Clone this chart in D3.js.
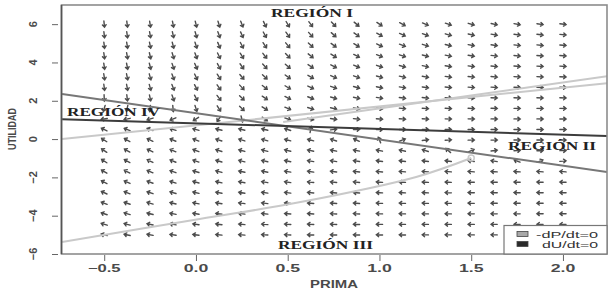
<!DOCTYPE html>
<html>
<head>
<meta charset="utf-8">
<script src="https://cdn.jsdelivr.net/npm/d3@7/dist/d3.min.js"></script>
<style>
  html, body { margin: 0; padding: 0; background: #fff; }
  svg { display: block; }
</style>
</head>
<body>
<svg id="chart" width="616" height="292"></svg>
<script>
// ---------- data ----------
const X_TICKS = [-0.5, 0, 0.5, 1, 1.5, 2];
const X_TICK_LABELS = ["\u22120.5", "0.0", "0.5", "1.0", "1.5", "2.0"];
const Y_TICKS = [-6, -4, -2, 0, 2, 4, 6];
const Y_TICK_LABELS = ["\u22126", "\u22124", "\u22122", "0", "2", "4", "6"];
const X_TITLE = "PRIMA";
const Y_TITLE = "UTILIDAD";

// grid of the direction field
const P_GRID = [-0.5, -0.375, -0.25, -0.125, 0, 0.125, 0.25, 0.375, 0.5, 0.625, 0.75,
                0.875, 1, 1.125, 1.25, 1.375, 1.5, 1.625, 1.75, 1.875, 2];
const U_GRID = [-5, -4.45, -3.9, -3.35, -2.8, -2.25, -1.7, -1.15, -0.6, -0.05, 0.5,
                1.05, 1.6, 2.15, 2.7, 3.25, 3.8, 4.35, 4.9, 5.45, 6];

// nullclines (end points)
const DU_NULL_P = [-0.73, 2.24];
const DU_NULL_U = [1.04, 0.16];
const DP_NULL_P = [-0.73, 2.24];
const DP_NULL_U = [2.35, -1.72];

// light trajectories
const TRAJ_A_P = [-0.73, 2.24];
const TRAJ_A_U = [0.0, 2.92];
const TRAJ_B_P = [0.475, 2.24];
const TRAJ_B_U = [0.89, 3.28];
const TRAJ_C_P = [-0.73, 0.02, 0.57, 1.2, 1.5];
const TRAJ_C_U = [-5.37, -4.17, -3.29, -1.98, -0.99];

const REGION_LABELS = ["REGI\u00D3N I", "REGI\u00D3N II", "REGI\u00D3N III", "REGI\u00D3N IV"];
const LEGEND_LABELS = ["-dP/dt=0", "dU/dt=0"];

// ---------- drawing ----------
const svg = d3.select("#chart");
const x = d3.scaleLinear().domain([-0.73, 2.24]).range([62, 607]);
const y = d3.scaleLinear().domain([-6, 7]).range([254, 5]);

const lineAt = (Ps, Us, p) => Us[0] + (Us[1] - Us[0]) * (p - Ps[0]) / (Ps[1] - Ps[0]);

svg.append("defs").append("clipPath").attr("id", "clip")
  .append("rect").attr("x", 62).attr("y", 5).attr("width", 545).attr("height", 249);

const plot = svg.append("g").attr("clip-path", "url(#clip)");

// direction field (sign pattern set by the two nullclines), R-style open arrow heads
const arrows = plot.append("g").attr("stroke", "#4c4c4c").attr("stroke-width", 1.4)
  .attr("fill", "none").attr("stroke-linecap", "round");
const ALEN = 6.2, HLEN = 3, HANG = 38 * Math.PI / 180;
P_GRID.forEach(p => {
  U_GRID.forEach(u => {
    const s2 = u - lineAt(DP_NULL_P, DP_NULL_U, p);
    const s1 = u - lineAt(DU_NULL_P, DU_NULL_U, p);
    const g = Math.exp(1.6 * p - 0.3 * u + 0.5);
    const dP = s2 * g;
    const dU = -s1;
    const vx = dP, vy = -dU;
    const a = Math.atan2(vy, vx);
    const cx = x(p), cy = y(u);
    const x0 = cx - Math.cos(a) * ALEN / 2, y0 = cy - Math.sin(a) * ALEN / 2;
    const x1 = cx + Math.cos(a) * ALEN / 2, y1 = cy + Math.sin(a) * ALEN / 2;
    const h1x = x1 - HLEN * Math.cos(a - HANG), h1y = y1 - HLEN * Math.sin(a - HANG);
    const h2x = x1 - HLEN * Math.cos(a + HANG), h2y = y1 - HLEN * Math.sin(a + HANG);
    arrows.append("path")
      .attr("d", `M${x0},${y0}L${x1},${y1}M${h1x},${h1y}L${x1},${y1}L${h2x},${h2y}`);
  });
});

// lines
const light = "#c9c9c9";
const lg = d3.line().x(d => x(d[0])).y(d => y(d[1]));
plot.append("path").attr("d", lg(d3.zip(TRAJ_A_P, TRAJ_A_U)))
  .attr("stroke", light).attr("stroke-width", 2).attr("fill", "none");
plot.append("path").attr("d", lg(d3.zip(TRAJ_B_P, TRAJ_B_U)))
  .attr("stroke", light).attr("stroke-width", 2).attr("fill", "none");
plot.append("path").attr("d", d3.line().x(d => x(d[0])).y(d => y(d[1])).curve(d3.curveCatmullRom)(d3.zip(TRAJ_C_P, TRAJ_C_U)))
  .attr("stroke", light).attr("stroke-width", 2).attr("fill", "none");
plot.append("circle").attr("cx", x(TRAJ_C_P[4])).attr("cy", y(TRAJ_C_U[4])).attr("r", 3)
  .attr("fill", "none").attr("stroke", light).attr("stroke-width", 1.5);

plot.append("path").attr("d", lg(d3.zip(DP_NULL_P, DP_NULL_U)))
  .attr("stroke", "#777").attr("stroke-width", 2).attr("fill", "none");
plot.append("path").attr("d", lg(d3.zip(DU_NULL_P, DU_NULL_U)))
  .attr("stroke", "#3c3c3c").attr("stroke-width", 2).attr("fill", "none");

// box
svg.append("rect").attr("x", 61.5).attr("y", 5).attr("width", 545.5).attr("height", 249)
  .attr("fill", "none").attr("stroke", "#8c8c8c").attr("stroke-width", 1.6);
svg.append("line").attr("x1", 61.5).attr("x2", 61.5).attr("y1", 5).attr("y2", 254)
  .attr("stroke", "#555").attr("stroke-width", 1.6);

// axes
const yAxis = svg.append("g").attr("transform", "translate(58,0)")
  .call(d3.axisLeft(y).tickValues(Y_TICKS).tickSize(6).tickFormat(""));
yAxis.select(".domain").remove();
yAxis.selectAll(".tick line").attr("stroke", "#666").attr("stroke-width", 1);

const xAxis = svg.append("g").attr("transform", "translate(0,255)")
  .call(d3.axisBottom(x).tickValues(X_TICKS).tickSize(6).tickFormat(""));
xAxis.select(".domain").remove();
xAxis.selectAll(".tick line").attr("stroke", "#666").attr("stroke-width", 1);

const sans = "'Liberation Sans', Arial, sans-serif";
svg.append("g").selectAll("text").data(X_TICKS).join("text")
  .attr("x", d => x(d)).attr("y", 272)
  .attr("text-anchor", "middle").attr("font-family", sans).attr("font-size", 10.5)
  .attr("font-weight", "bold").attr("fill", "#4a4a4a")
  .attr("textLength", (d, i) => X_TICK_LABELS[i].length * 8.2)
  .attr("lengthAdjust", "spacingAndGlyphs")
  .text((d, i) => X_TICK_LABELS[i]);

svg.append("g").selectAll("text").data(Y_TICKS).join("text")
  .attr("transform", d => `translate(37,${y(d)}) rotate(-90)`)
  .attr("text-anchor", "middle").attr("font-family", sans).attr("font-size", 11)
  .attr("font-weight", "bold").attr("fill", "#4a4a4a")
  .text((d, i) => Y_TICK_LABELS[i]);

svg.append("text").attr("x", 334).attr("y", 288).attr("text-anchor", "middle")
  .attr("font-family", sans).attr("font-size", 10).attr("font-weight", "bold").attr("fill", "#4a4a4a")
  .attr("textLength", 48).attr("lengthAdjust", "spacingAndGlyphs").text(X_TITLE);
svg.append("text").attr("transform", "translate(16,129) rotate(-90)").attr("text-anchor", "middle")
  .attr("font-family", sans).attr("font-size", 11).attr("font-weight", "bold").attr("fill", "#4a4a4a")
  .attr("textLength", 42).attr("lengthAdjust", "spacingAndGlyphs").text(Y_TITLE);

// region labels
const serif = "'Liberation Serif', 'Times New Roman', serif";
const regionPos = [
  {x: 271, y: 17, w: 82},
  {x: 508, y: 150, w: 88},
  {x: 278, y: 249, w: 95},
  {x: 67, y: 116, w: 93}
];
svg.append("g").selectAll("text").data(REGION_LABELS).join("text")
  .attr("x", (d, i) => regionPos[i].x).attr("y", (d, i) => regionPos[i].y)
  .attr("font-family", serif).attr("font-size", 12).attr("font-weight", "bold").attr("fill", "#222")
  .attr("textLength", (d, i) => regionPos[i].w).attr("lengthAdjust", "spacingAndGlyphs")
  .text(d => d);

// legend
const leg = svg.append("g");
leg.append("rect").attr("x", 504).attr("y", 225.5).attr("width", 103).attr("height", 28.5)
  .attr("fill", "#fff").attr("stroke", "#777").attr("stroke-width", 1.2);
const legColors = ["#a8a8a8", "#2a2a2a"];
LEGEND_LABELS.forEach((t, i) => {
  leg.append("rect").attr("x", 517).attr("y", 231.5 + i * 10).attr("width", 11).attr("height", 5)
    .attr("fill", legColors[i]).attr("stroke", "#444").attr("stroke-width", 0.8);
  leg.append("text").attr("x", 598).attr("y", 237.5 + i * 10).attr("text-anchor", "end")
    .attr("font-family", sans).attr("font-size", 8.5).attr("fill", "#333")
    .attr("textLength", i === 0 ? 62 : 56).attr("lengthAdjust", "spacingAndGlyphs")
    .text(t);
});
</script>
</body>
</html>
